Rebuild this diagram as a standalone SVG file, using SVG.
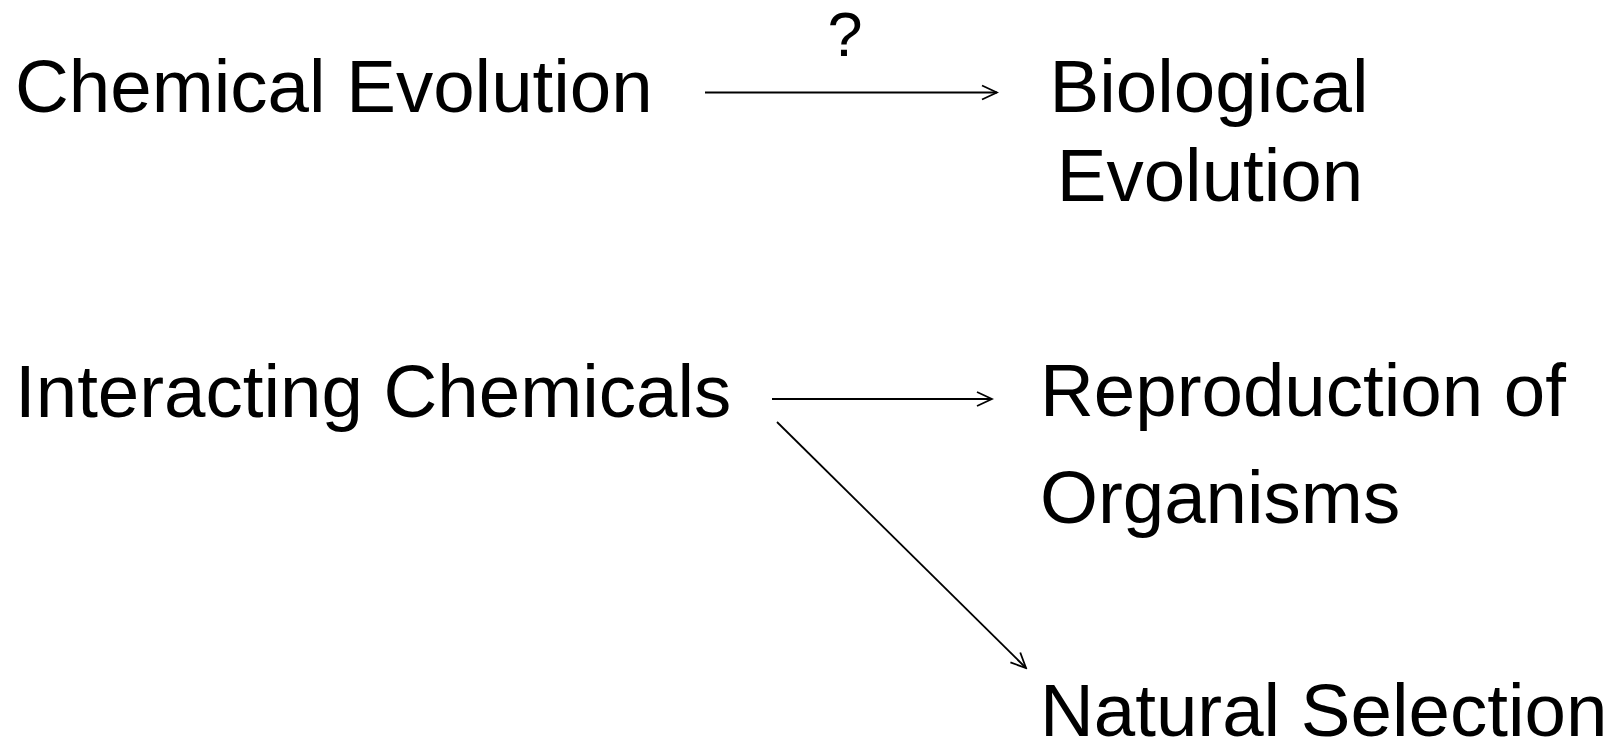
<svg xmlns="http://www.w3.org/2000/svg" width="1621" height="746" viewBox="0 0 1621 746">
<style>
.t{font-family:"Liberation Sans",Arial,Helvetica,sans-serif;font-size:74.5px;fill:#000}
.q{font-family:"Liberation Sans",Arial,Helvetica,sans-serif;font-size:63px;fill:#000}
.c{stroke:#000;stroke-width:1.8;fill:none}
</style>
<defs>
<marker id="ah" markerUnits="userSpaceOnUse" viewBox="0 0 18 18" refX="16" refY="9" markerWidth="18" markerHeight="18" orient="auto">
<path d="M1 2 L16 9 L1 16" fill="none" stroke="#000" stroke-width="1.8"/>
</marker>
</defs>
<rect width="1621" height="746" fill="#fff"/>
<g id="connectors">
<line class="c" x1="705" y1="92.5" x2="997" y2="92.5" marker-end="url(#ah)"/>
<text class="q" x="845" y="56" text-anchor="middle">?</text>
<line class="c" x1="772" y1="399" x2="992" y2="399" marker-end="url(#ah)"/>
<line class="c" x1="777" y1="422" x2="1026" y2="668" marker-end="url(#ah)"/>
</g>
<g id="chemical-evolution"><text class="t" x="15" y="112">Chemical Evolution</text></g>
<g id="biological-evolution"><text class="t" x="1209" y="112" text-anchor="middle">Biological</text><text class="t" x="1210" y="201" text-anchor="middle">Evolution</text></g>
<g id="interacting-chemicals"><text class="t" x="15" y="417">Interacting Chemicals</text></g>
<g id="reproduction"><text class="t" x="1040" y="416">Reproduction of</text><text class="t" x="1040" y="523">Organisms</text></g>
<g id="natural-selection"><text class="t" x="1040" y="736">Natural Selection</text></g>
</svg>
